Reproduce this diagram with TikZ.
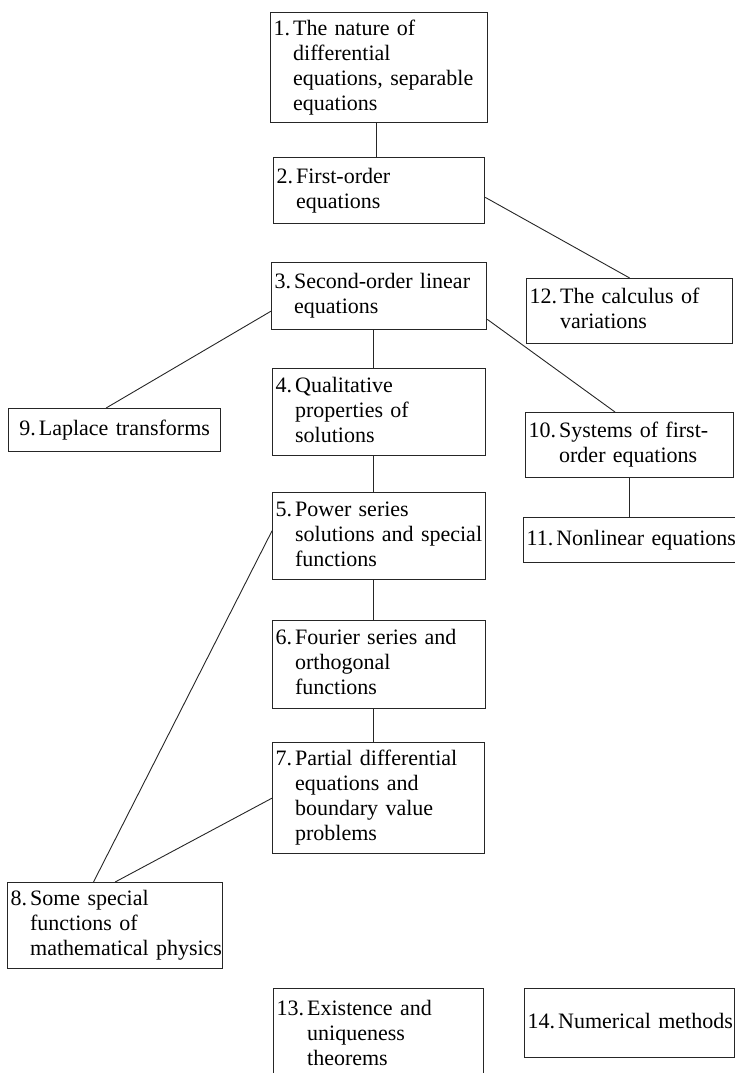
\documentclass[tikz,border=0pt]{standalone}
\usepackage{fontspec}
\setmainfont{Liberation Serif}
\usepackage{tikz}
\usetikzlibrary{calc,positioning}
\newcommand{\topicfont}{\fontsize{22}{25}\selectfont}
\newcommand{\topic}[2]{\begin{tabular}[t]{@{}l@{\hspace{3pt}}l@{}}#1 & \begin{tabular}[t]{@{}l@{}}#2\end{tabular}\end{tabular}}

\begin{document}
\begin{tikzpicture}[x=1pt,y=-1pt,
    topicbox/.style={draw=black!85, line width=1.3pt, anchor=north west, inner xsep=3pt, inner ysep=0pt, align=left, font=\topicfont},
    link/.style={draw=black!85, line width=0.9pt}]
    \useasboundingbox (0,0) rectangle (734,1073);
    \coordinate (spine) at (373,0);
    \node[topicbox, text width=211pt, minimum height=110pt] (b1) at (270,12) {\topic{1.}{The nature of\\ differential\\ equations, separable\\ equations}};
    \node[topicbox, text width=205pt, minimum height=66pt] (b2) at (273,157) {\topic{2.}{First-order\\ equations}};
    \node[topicbox, text width=209pt, minimum height=67pt] (b3) at (271,262) {\topic{3.}{Second-order linear\\ equations}};
    \node[topicbox, text width=207pt, minimum height=87pt] (b4) at (272,368) {\topic{4.}{Qualitative\\ properties of\\ solutions}};
    \node[topicbox, text width=207pt, minimum height=87pt] (b5) at (272,492) {\topic{5.}{Power series\\ solutions and special\\ functions}};
    \node[topicbox, text width=207pt, minimum height=88pt] (b6) at (272,620) {\topic{6.}{Fourier series and\\ orthogonal\\ functions}};
    \node[topicbox, text width=206pt, minimum height=111pt] (b7) at (272,742) {\topic{7.}{Partial differential\\ equations and\\ boundary value\\ problems}};
    \node[topicbox, text width=209pt, minimum height=86pt] (b8) at (7,882) {\topic{8.}{Some special\\ functions of\\ mathematical physics}};
    \node[topicbox, text width=206pt, minimum height=43pt, align=center] (b9) at (8,408) {\topic{9.}{Laplace transforms}};
    \node[topicbox, text width=202pt, minimum height=65pt] (b10) at (525,412) {\topic{10.}{Systems of first-\\ order equations}};
    \node[topicbox, text width=206pt, minimum height=45pt] (b11) at (523,517) {\topic{11.}{Nonlinear equations}};
    \node[topicbox, text width=200pt, minimum height=65pt] (b12) at (526,278) {\topic{12.}{The calculus of\\ variations}};
    \node[topicbox, text width=204pt, minimum height=94pt] (b13) at (273,988) {\topic{13.}{Existence and\\ uniqueness\\ theorems}};
    \node[topicbox, text width=204pt, minimum height=69pt] (b14) at (524,988) {\topic{14.}{Numerical methods}};
    \draw[link] (b1.south -| spine) ++(3,0) -- ($(b2.north -| spine)+(3,0)$);
    \draw[link] ($(b2.north east)!0.6!(b2.south east)$) -- (b12.north);
    \draw[link] ($(b3.north west)!0.72!(b3.south west)$) -- ($(b9.north west)!0.46!(b9.north east)$);
    \draw[link] (b3.south -| spine) -- (b4.north -| spine);
    \draw[link] ($(b3.north east)!0.84!(b3.south east)$) -- ($(b10.north west)!0.43!(b10.north east)$);
    \draw[link] (b4.south -| spine) -- (b5.north -| spine);
    \draw[link] (b5.south -| spine) -- (b6.north -| spine);
    \draw[link] (b6.south -| spine) -- (b7.north -| spine);
    \draw[link] ($(b5.north west)!0.44!(b5.south west)$) -- ($(b8.north west)!0.40!(b8.north east)$);
    \draw[link] (b7.west) -- (b8.north);
    \draw[link] (b10.south) -- (b10.south |- b11.north);
\end{tikzpicture}
\end{document}
